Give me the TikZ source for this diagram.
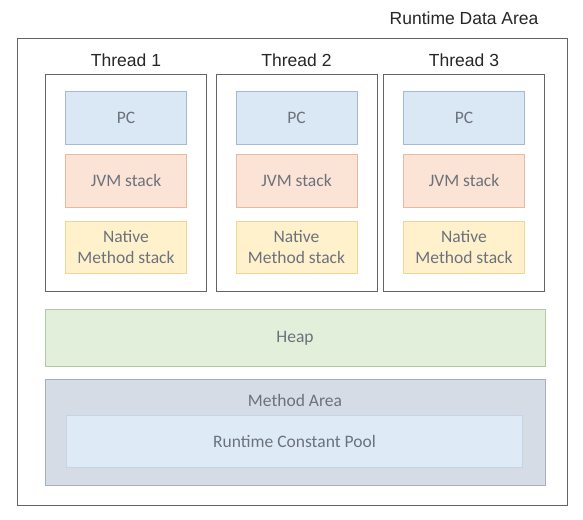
\documentclass[tikz,border=0pt]{standalone}
\usepackage{fontspec}
\setmainfont{Liberation Sans}
\newfontfamily\boxfont{Carlito}
\usetikzlibrary{positioning}
\definecolor{pcfill}{RGB}{218, 232, 245}
\definecolor{pcline}{RGB}{165, 185, 210}
\definecolor{jvmfill}{RGB}{251, 228, 214}
\definecolor{jvmline}{RGB}{230, 185, 160}
\definecolor{natfill}{RGB}{255, 241, 204}
\definecolor{natline}{RGB}{240, 214, 150}
\definecolor{heapfill}{RGB}{226, 239, 218}
\definecolor{heapline}{RGB}{180, 200, 165}
\definecolor{mafill}{RGB}{214, 220, 229}
\definecolor{maline}{RGB}{165, 175, 190}
\definecolor{rcpfill}{RGB}{222, 235, 247}
\definecolor{rcpline}{RGB}{195, 212, 230}
\definecolor{boxtext}{RGB}{108, 114, 124}
\definecolor{frameline}{RGB}{100, 100, 100}

\begin{document}
\begin{tikzpicture}[x=1pt, y=-1pt,
    area/.style={draw, rectangle, inner sep=0pt, line width=0.8pt, font=\boxfont\fontsize{17.5}{21}\selectfont, text=boxtext, align=center},
    title/.style={font=\fontsize{17.5}{19}\selectfont, text=black!85}]
        \useasboundingbox (0,0) rectangle (583,519);
        % Outer runtime data area
        \node[title, anchor=east] (rda) at (542, 18) {Runtime Data Area};
        \node[draw=frameline, line width=0.9pt, minimum width=550pt, minimum height=467pt, inner sep=0pt] (outer) at (292, 271.5) {};

        % Threads with their private areas
        \foreach \i/\x in {1/126, 2/296.5, 3/464} {
            \node[draw=frameline, line width=0.9pt, minimum width=161pt, minimum height=217pt, inner sep=0pt] (th\i) at (\x, 182.5) {};
            \node[title] (tt\i) at (\x, 60) {Thread \i};
            \node[area, draw=pcline, fill=pcfill, minimum width=121pt, minimum height=53pt] (pc\i) at (\x, 117.5) {PC};
            \node[area, draw=jvmline, fill=jvmfill, minimum width=121pt, minimum height=53pt] (jvm\i) at (\x, 180.5) {JVM stack};
            \node[area, draw=natline, fill=natfill, minimum width=121pt, minimum height=52pt] (nat\i) at (\x, 247.5) {Native\\Method stack};
        }

        % Shared areas
        \node[area, draw=heapline, fill=heapfill, minimum width=500pt, minimum height=57pt] (heap) at (295, 338) {Heap};
        \node[area, draw=maline, fill=mafill, minimum width=500pt, minimum height=106pt] (ma) at (295, 432) {};
        \node[font=\boxfont\fontsize{17.5}{21}\selectfont, text=boxtext] (matext) at (295, 400) {Method Area};
        \node[area, draw=rcpline, fill=rcpfill, minimum width=456pt, minimum height=52pt] (rcp) at (294.5, 441.5) {Runtime Constant Pool};
    \end{tikzpicture}
\end{document}
